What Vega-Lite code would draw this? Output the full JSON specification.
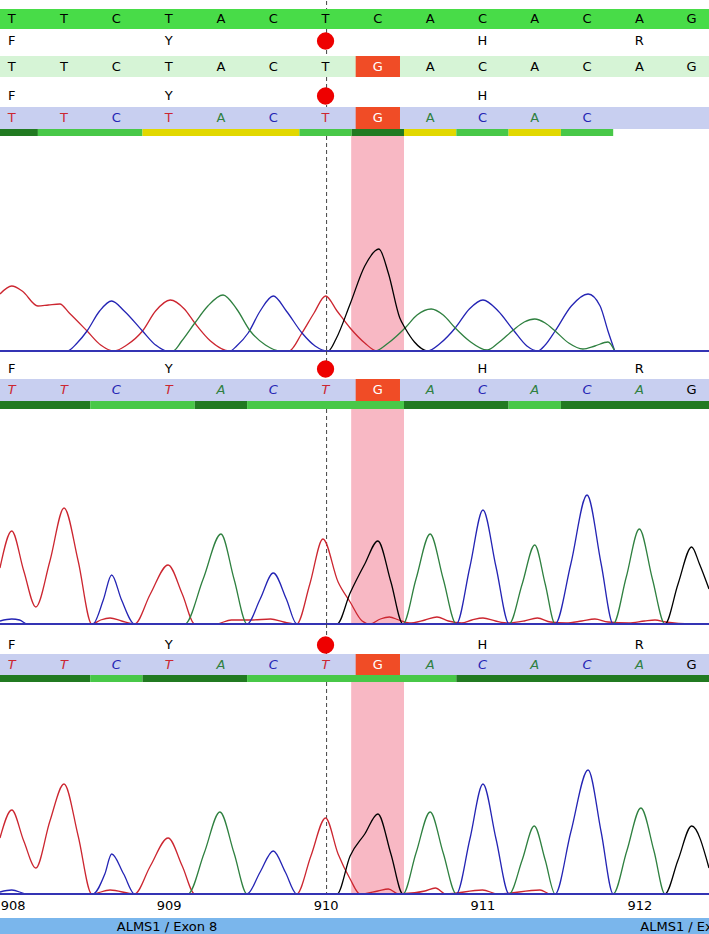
{
"$schema": "https://vega.github.io/schema/vega-lite/v6.json",
"padding": 0,
"spacing": 0,
"bounds": "flush",
"config": {"view": {"stroke": null}, "font": "DejaVu Sans"},
"datasets": {
"cursor": [{"idx": 6.02}],
"highlight": [{"from": 6.49, "to": 7.5}],
"variant": [{"idx": 7, "from": 6.5, "to": 7.5, "base": "G"}],
"ref": [{"idx":0,"base":"T"},{"idx":1,"base":"T"},{"idx":2,"base":"C"},{"idx":3,"base":"T"},{"idx":4,"base":"A"},{"idx":5,"base":"C"},{"idx":6,"base":"T"},{"idx":7,"base":"C"},{"idx":8,"base":"A"},{"idx":9,"base":"C"},{"idx":10,"base":"A"},{"idx":11,"base":"C"},{"idx":12,"base":"A"},{"idx":13,"base":"G"}],
"seq1": [{"idx":0,"base":"T"},{"idx":1,"base":"T"},{"idx":2,"base":"C"},{"idx":3,"base":"T"},{"idx":4,"base":"A"},{"idx":5,"base":"C"},{"idx":6,"base":"T"},{"idx":8,"base":"A"},{"idx":9,"base":"C"},{"idx":10,"base":"A"},{"idx":11,"base":"C"},{"idx":12,"base":"A"},{"idx":13,"base":"G"}],
"call1": [{"idx":0,"base":"T"},{"idx":1,"base":"T"},{"idx":2,"base":"C"},{"idx":3,"base":"T"},{"idx":4,"base":"A"},{"idx":5,"base":"C"},{"idx":6,"base":"T"},{"idx":8,"base":"A"},{"idx":9,"base":"C"},{"idx":10,"base":"A"},{"idx":11,"base":"C"}],
"call2": [{"idx":0,"base":"T"},{"idx":1,"base":"T"},{"idx":2,"base":"C"},{"idx":3,"base":"T"},{"idx":4,"base":"A"},{"idx":5,"base":"C"},{"idx":6,"base":"T"},{"idx":8,"base":"A"},{"idx":9,"base":"C"},{"idx":10,"base":"A"},{"idx":11,"base":"C"},{"idx":12,"base":"A"},{"idx":13,"base":"G"}],
"call3": [{"idx":0,"base":"T"},{"idx":1,"base":"T"},{"idx":2,"base":"C"},{"idx":3,"base":"T"},{"idx":4,"base":"A"},{"idx":5,"base":"C"},{"idx":6,"base":"T"},{"idx":8,"base":"A"},{"idx":9,"base":"C"},{"idx":10,"base":"A"},{"idx":11,"base":"C"},{"idx":12,"base":"A"},{"idx":13,"base":"G"}],
"aa1": [{"idx":0,"aa":"F"},{"idx":3,"aa":"Y"},{"idx":6,"aa":"*"},{"idx":9,"aa":"H"},{"idx":12,"aa":"R"}],
"aa2": [{"idx":0,"aa":"F"},{"idx":3,"aa":"Y"},{"idx":6,"aa":"*"},{"idx":9,"aa":"H"}],
"aa3": [{"idx":0,"aa":"F"},{"idx":3,"aa":"Y"},{"idx":6,"aa":"*"},{"idx":9,"aa":"H"},{"idx":12,"aa":"R"}],
"aa4": [{"idx":0,"aa":"F"},{"idx":3,"aa":"Y"},{"idx":6,"aa":"*"},{"idx":9,"aa":"H"},{"idx":12,"aa":"R"}],
"q1": [{"from":-0.5,"to":0.5,"quality":"high"},{"from":0.5,"to":2.5,"quality":"medium"},{"from":2.5,"to":5.5,"quality":"low"},{"from":5.5,"to":6.5,"quality":"medium"},{"from":6.5,"to":7.5,"quality":"high"},{"from":7.5,"to":8.5,"quality":"low"},{"from":8.5,"to":9.5,"quality":"medium"},{"from":9.5,"to":10.5,"quality":"low"},{"from":10.5,"to":11.5,"quality":"medium"}],
"q2": [{"from":-0.5,"to":1.5,"quality":"high"},{"from":1.5,"to":3.5,"quality":"medium"},{"from":3.5,"to":4.5,"quality":"high"},{"from":4.5,"to":7.5,"quality":"medium"},{"from":7.5,"to":9.5,"quality":"high"},{"from":9.5,"to":10.5,"quality":"medium"},{"from":10.5,"to":13.5,"quality":"high"}],
"q3": [{"from":-0.5,"to":1.5,"quality":"high"},{"from":1.5,"to":2.5,"quality":"medium"},{"from":2.5,"to":4.5,"quality":"high"},{"from":4.5,"to":8.5,"quality":"medium"},{"from":8.5,"to":13.5,"quality":"high"}],
"exon": [{"idx":2.97,"label":"ALMS1 / Exon 8"},{"idx":12.98,"label":"ALMS1 / Exon 8"}],
"trace1": [
{"base":"T","idx":-0.225,"signal":57},{"base":"T","idx":0,"signal":65},{"base":"T","idx":0.2,"signal":60},{"base":"T","idx":0.5,"signal":45},{"base":"T","idx":0.7,"signal":46},{"base":"T","idx":0.92,"signal":47},{"base":"T","idx":1.1,"signal":38},{"base":"T","idx":1.44,"signal":20},{"base":"T","idx":1.7,"signal":6},{"base":"T","idx":1.95,"signal":0},{"base":"T","idx":2.2,"signal":6},{"base":"T","idx":2.5,"signal":20},{"base":"T","idx":2.75,"signal":40},{"base":"T","idx":3.03,"signal":51},{"base":"T","idx":3.3,"signal":42},{"base":"T","idx":3.5,"signal":28},{"base":"T","idx":3.8,"signal":10},{"base":"T","idx":4.17,"signal":0},{"base":"T","idx":5.3,"signal":0},{"base":"T","idx":5.55,"signal":18},{"base":"T","idx":5.78,"signal":38},{"base":"T","idx":6.0,"signal":55},{"base":"T","idx":6.22,"signal":40},{"base":"T","idx":6.47,"signal":23},{"base":"T","idx":6.75,"signal":8},{"base":"T","idx":6.98,"signal":0},{"base":"T","idx":11.53,"signal":0},
{"base":"C","idx":-0.225,"signal":0},{"base":"C","idx":1.06,"signal":0},{"base":"C","idx":1.25,"signal":8},{"base":"C","idx":1.44,"signal":20},{"base":"C","idx":1.68,"signal":40},{"base":"C","idx":1.91,"signal":50},{"base":"C","idx":2.15,"signal":40},{"base":"C","idx":2.5,"signal":20},{"base":"C","idx":2.75,"signal":6},{"base":"C","idx":2.97,"signal":0},{"base":"C","idx":4.17,"signal":0},{"base":"C","idx":4.3,"signal":5},{"base":"C","idx":4.52,"signal":18},{"base":"C","idx":4.75,"signal":40},{"base":"C","idx":5.0,"signal":55},{"base":"C","idx":5.25,"signal":40},{"base":"C","idx":5.55,"signal":18},{"base":"C","idx":5.8,"signal":5},{"base":"C","idx":6.03,"signal":0},{"base":"C","idx":7.94,"signal":0},{"base":"C","idx":8.2,"signal":8},{"base":"C","idx":8.48,"signal":23},{"base":"C","idx":8.75,"signal":42},{"base":"C","idx":9.01,"signal":51},{"base":"C","idx":9.3,"signal":40},{"base":"C","idx":9.59,"signal":21},{"base":"C","idx":9.85,"signal":5},{"base":"C","idx":10.06,"signal":0},{"base":"C","idx":10.2,"signal":6},{"base":"C","idx":10.39,"signal":20},{"base":"C","idx":10.7,"signal":45},{"base":"C","idx":11.02,"signal":57},{"base":"C","idx":11.25,"signal":45},{"base":"C","idx":11.4,"signal":20},{"base":"C","idx":11.53,"signal":0},
{"base":"A","idx":-0.225,"signal":0},{"base":"A","idx":3.08,"signal":0},{"base":"A","idx":3.25,"signal":10},{"base":"A","idx":3.5,"signal":28},{"base":"A","idx":3.75,"signal":45},{"base":"A","idx":4.04,"signal":56},{"base":"A","idx":4.3,"signal":42},{"base":"A","idx":4.56,"signal":20},{"base":"A","idx":4.85,"signal":6},{"base":"A","idx":5.14,"signal":0},{"base":"A","idx":6.95,"signal":0},{"base":"A","idx":7.2,"signal":8},{"base":"A","idx":7.52,"signal":23},{"base":"A","idx":7.75,"signal":36},{"base":"A","idx":8.02,"signal":42},{"base":"A","idx":8.25,"signal":36},{"base":"A","idx":8.48,"signal":23},{"base":"A","idx":8.75,"signal":10},{"base":"A","idx":9.09,"signal":1},{"base":"A","idx":9.3,"signal":8},{"base":"A","idx":9.59,"signal":21},{"base":"A","idx":9.8,"signal":29},{"base":"A","idx":10.0,"signal":32},{"base":"A","idx":10.2,"signal":28},{"base":"A","idx":10.39,"signal":20},{"base":"A","idx":10.65,"signal":8},{"base":"A","idx":10.92,"signal":2},{"base":"A","idx":11.15,"signal":5},{"base":"A","idx":11.4,"signal":9},{"base":"A","idx":11.53,"signal":0},
{"base":"G","idx":-0.225,"signal":0},{"base":"G","idx":6.05,"signal":0},{"base":"G","idx":6.2,"signal":12},{"base":"G","idx":6.47,"signal":47},{"base":"G","idx":6.75,"signal":85},{"base":"G","idx":7.02,"signal":102},{"base":"G","idx":7.2,"signal":78},{"base":"G","idx":7.42,"signal":33},{"base":"G","idx":7.52,"signal":23},{"base":"G","idx":7.7,"signal":9},{"base":"G","idx":7.96,"signal":0},{"base":"G","idx":11.53,"signal":0}
],
"trace2": [
{"base":"T","idx":-0.225,"signal":56},{"base":"T","idx":0,"signal":93},{"base":"T","idx":0.23,"signal":53},{"base":"T","idx":0.46,"signal":17},{"base":"T","idx":0.73,"signal":63},{"base":"T","idx":1.0,"signal":116},{"base":"T","idx":1.27,"signal":63},{"base":"T","idx":1.53,"signal":0},{"base":"T","idx":1.7,"signal":4},{"base":"T","idx":1.88,"signal":6},{"base":"T","idx":2.1,"signal":3},{"base":"T","idx":2.35,"signal":0},{"base":"T","idx":2.65,"signal":30},{"base":"T","idx":2.99,"signal":59},{"base":"T","idx":3.26,"signal":30},{"base":"T","idx":3.5,"signal":0},{"base":"T","idx":3.9,"signal":0},{"base":"T","idx":4.2,"signal":4},{"base":"T","idx":4.6,"signal":4},{"base":"T","idx":4.95,"signal":5},{"base":"T","idx":5.2,"signal":2},{"base":"T","idx":5.45,"signal":0},{"base":"T","idx":5.7,"signal":40},{"base":"T","idx":5.95,"signal":85},{"base":"T","idx":6.24,"signal":42},{"base":"T","idx":6.47,"signal":22},{"base":"T","idx":6.7,"signal":3},{"base":"T","idx":6.85,"signal":0},{"base":"T","idx":7.05,"signal":5},{"base":"T","idx":7.22,"signal":7},{"base":"T","idx":7.4,"signal":4},{"base":"T","idx":7.6,"signal":1},{"base":"T","idx":7.9,"signal":4},{"base":"T","idx":8.13,"signal":7},{"base":"T","idx":8.35,"signal":3},{"base":"T","idx":8.6,"signal":1},{"base":"T","idx":8.8,"signal":4},{"base":"T","idx":9.01,"signal":6},{"base":"T","idx":9.25,"signal":3},{"base":"T","idx":9.5,"signal":1},{"base":"T","idx":9.8,"signal":3},{"base":"T","idx":10.05,"signal":6},{"base":"T","idx":10.3,"signal":2},{"base":"T","idx":10.6,"signal":1},{"base":"T","idx":10.9,"signal":3},{"base":"T","idx":11.15,"signal":5},{"base":"T","idx":11.4,"signal":2},{"base":"T","idx":11.8,"signal":1},{"base":"T","idx":12.1,"signal":3},{"base":"T","idx":12.3,"signal":4},{"base":"T","idx":12.5,"signal":2},{"base":"T","idx":13.0,"signal":0},{"base":"T","idx":13.332,"signal":0},
{"base":"C","idx":-0.225,"signal":3},{"base":"C","idx":0,"signal":5},{"base":"C","idx":0.15,"signal":4},{"base":"C","idx":0.3,"signal":0},{"base":"C","idx":1.55,"signal":0},{"base":"C","idx":1.75,"signal":24},{"base":"C","idx":1.91,"signal":49},{"base":"C","idx":2.1,"signal":24},{"base":"C","idx":2.35,"signal":0},{"base":"C","idx":4.5,"signal":0},{"base":"C","idx":4.75,"signal":25},{"base":"C","idx":5.0,"signal":51},{"base":"C","idx":5.25,"signal":25},{"base":"C","idx":5.45,"signal":0},{"base":"C","idx":8.5,"signal":0},{"base":"C","idx":8.76,"signal":57},{"base":"C","idx":9.01,"signal":114},{"base":"C","idx":9.26,"signal":57},{"base":"C","idx":9.51,"signal":0},{"base":"C","idx":10.39,"signal":0},{"base":"C","idx":10.69,"signal":60},{"base":"C","idx":11.0,"signal":129},{"base":"C","idx":11.27,"signal":60},{"base":"C","idx":11.5,"signal":0},{"base":"C","idx":13.332,"signal":0},
{"base":"A","idx":-0.225,"signal":0},{"base":"A","idx":3.31,"signal":0},{"base":"A","idx":3.66,"signal":45},{"base":"A","idx":4.0,"signal":90},{"base":"A","idx":4.25,"signal":45},{"base":"A","idx":4.5,"signal":0},{"base":"A","idx":7.48,"signal":0},{"base":"A","idx":7.73,"signal":45},{"base":"A","idx":8.0,"signal":90},{"base":"A","idx":8.25,"signal":45},{"base":"A","idx":8.5,"signal":0},{"base":"A","idx":9.51,"signal":0},{"base":"A","idx":9.76,"signal":40},{"base":"A","idx":10.0,"signal":79},{"base":"A","idx":10.2,"signal":40},{"base":"A","idx":10.39,"signal":0},{"base":"A","idx":11.5,"signal":0},{"base":"A","idx":11.75,"signal":47},{"base":"A","idx":12.0,"signal":95},{"base":"A","idx":12.25,"signal":45},{"base":"A","idx":12.49,"signal":0},{"base":"A","idx":13.332,"signal":0},
{"base":"G","idx":-0.225,"signal":0},{"base":"G","idx":6.22,"signal":0},{"base":"G","idx":6.47,"signal":31},{"base":"G","idx":6.75,"signal":60},{"base":"G","idx":7.0,"signal":83},{"base":"G","idx":7.25,"signal":42},{"base":"G","idx":7.48,"signal":0},{"base":"G","idx":12.49,"signal":0},{"base":"G","idx":12.74,"signal":40},{"base":"G","idx":13.0,"signal":77},{"base":"G","idx":13.15,"signal":60},{"base":"G","idx":13.332,"signal":35}
],
"trace3": [
{"base":"T","idx":-0.225,"signal":56},{"base":"T","idx":0,"signal":84},{"base":"T","idx":0.23,"signal":53},{"base":"T","idx":0.46,"signal":26},{"base":"T","idx":0.73,"signal":73},{"base":"T","idx":1.0,"signal":110},{"base":"T","idx":1.27,"signal":58},{"base":"T","idx":1.53,"signal":0},{"base":"T","idx":1.88,"signal":4},{"base":"T","idx":2.35,"signal":0},{"base":"T","idx":2.65,"signal":28},{"base":"T","idx":2.99,"signal":56},{"base":"T","idx":3.26,"signal":28},{"base":"T","idx":3.5,"signal":0},{"base":"T","idx":5.45,"signal":0},{"base":"T","idx":5.72,"signal":38},{"base":"T","idx":6.0,"signal":76},{"base":"T","idx":6.24,"signal":40},{"base":"T","idx":6.47,"signal":15},{"base":"T","idx":6.66,"signal":0},{"base":"T","idx":7.0,"signal":3},{"base":"T","idx":7.2,"signal":5},{"base":"T","idx":7.4,"signal":0},{"base":"T","idx":7.9,"signal":3},{"base":"T","idx":8.1,"signal":6},{"base":"T","idx":8.3,"signal":0},{"base":"T","idx":9.0,"signal":4},{"base":"T","idx":9.3,"signal":0},{"base":"T","idx":10.1,"signal":4},{"base":"T","idx":10.3,"signal":0},{"base":"T","idx":13.332,"signal":0},
{"base":"C","idx":-0.225,"signal":2},{"base":"C","idx":0,"signal":4},{"base":"C","idx":0.3,"signal":0},{"base":"C","idx":1.55,"signal":0},{"base":"C","idx":1.78,"signal":20},{"base":"C","idx":1.91,"signal":40},{"base":"C","idx":2.14,"signal":20},{"base":"C","idx":2.35,"signal":0},{"base":"C","idx":4.5,"signal":0},{"base":"C","idx":4.75,"signal":22},{"base":"C","idx":5.0,"signal":43},{"base":"C","idx":5.23,"signal":22},{"base":"C","idx":5.45,"signal":0},{"base":"C","idx":8.5,"signal":0},{"base":"C","idx":8.76,"signal":55},{"base":"C","idx":9.01,"signal":110},{"base":"C","idx":9.26,"signal":55},{"base":"C","idx":9.51,"signal":0},{"base":"C","idx":10.39,"signal":0},{"base":"C","idx":10.69,"signal":62},{"base":"C","idx":11.02,"signal":124},{"base":"C","idx":11.27,"signal":62},{"base":"C","idx":11.5,"signal":0},{"base":"C","idx":13.332,"signal":0},
{"base":"A","idx":-0.225,"signal":0},{"base":"A","idx":3.37,"signal":0},{"base":"A","idx":3.68,"signal":41},{"base":"A","idx":3.98,"signal":82},{"base":"A","idx":4.25,"signal":41},{"base":"A","idx":4.5,"signal":0},{"base":"A","idx":7.48,"signal":0},{"base":"A","idx":7.73,"signal":41},{"base":"A","idx":8.0,"signal":82},{"base":"A","idx":8.25,"signal":41},{"base":"A","idx":8.5,"signal":0},{"base":"A","idx":9.51,"signal":0},{"base":"A","idx":9.76,"signal":34},{"base":"A","idx":9.99,"signal":68},{"base":"A","idx":10.2,"signal":34},{"base":"A","idx":10.39,"signal":0},{"base":"A","idx":11.5,"signal":0},{"base":"A","idx":11.76,"signal":43},{"base":"A","idx":12.03,"signal":86},{"base":"A","idx":12.28,"signal":43},{"base":"A","idx":12.49,"signal":0},{"base":"A","idx":13.332,"signal":0},
{"base":"G","idx":-0.225,"signal":0},{"base":"G","idx":6.22,"signal":0},{"base":"G","idx":6.47,"signal":38},{"base":"G","idx":6.75,"signal":60},{"base":"G","idx":7.0,"signal":80},{"base":"G","idx":7.25,"signal":40},{"base":"G","idx":7.48,"signal":0},{"base":"G","idx":12.49,"signal":0},{"base":"G","idx":12.74,"signal":34},{"base":"G","idx":13.0,"signal":68},{"base":"G","idx":13.332,"signal":26}
]
},
"vconcat": [
{"width":709,"height":8,"data":{"name":"cursor"},"mark":{"type":"rule","strokeDash":[4,3],"color":"#444444","strokeWidth":1},"encoding":{"x":{"field":"idx","type":"quantitative","scale":{"domain":[-0.2247,13.332],"nice":false,"zero":false},"axis":null}}},
{"width":709,"height":20,"layer":[
 {"data":{"values":[{"track":"reference"}]},"mark":{"type":"rect","color":"#48dc48"},"encoding":{}},
 {"data":{"name":"ref"},"mark":{"type":"text","fontSize":13,"color":"#000000"},"encoding":{"x":{"field":"idx","type":"quantitative","scale":{"domain":[-0.2247,13.332],"nice":false,"zero":false},"axis":null},"text":{"field":"base"}}}
]},
{"width":709,"height":27,"data":{"name":"aa1"},"layer":[
 {"data":{"name":"cursor"},"mark":{"type":"rule","strokeDash":[4,3],"color":"#444444","strokeWidth":1},"encoding":{"x":{"field":"idx","type":"quantitative","scale":{"domain":[-0.2247,13.332],"nice":false,"zero":false},"axis":null}}},
 {"transform":[{"filter":"datum.aa !== '*'"}],"mark":{"type":"text","fontSize":13,"color":"#000000","yOffset":-1.5},"encoding":{"x":{"field":"idx","type":"quantitative","scale":{"domain":[-0.2247,13.332],"nice":false,"zero":false},"axis":null},"text":{"field":"aa"}}},
 {"transform":[{"filter":"datum.aa === '*'"}],"mark":{"type":"circle","size":300,"color":"#ee0000","opacity":1,"yOffset":-1.5},"encoding":{"x":{"field":"idx","type":"quantitative","scale":{"domain":[-0.2247,13.332],"nice":false,"zero":false},"axis":null}}}
]},
{"width":709,"height":21,"layer":[
 {"data":{"values":[{"track":"sample"}]},"mark":{"type":"rect","color":"#d6f4d6"},"encoding":{}},
 {"data":{"name":"seq1"},"mark":{"type":"text","fontSize":13,"color":"#000000"},"encoding":{"x":{"field":"idx","type":"quantitative","scale":{"domain":[-0.2247,13.332],"nice":false,"zero":false},"axis":null},"text":{"field":"base"}}},
 {"data":{"name":"variant"},"mark":{"type":"rect","color":"#f04c26","xOffset":4,"x2Offset":-4},"encoding":{"x":{"field":"from","type":"quantitative","scale":{"domain":[-0.2247,13.332],"nice":false,"zero":false},"axis":null},"x2":{"field":"to"}}},
 {"data":{"name":"variant"},"mark":{"type":"text","fontSize":13,"color":"#ffffff"},"encoding":{"x":{"field":"idx","type":"quantitative","scale":{"domain":[-0.2247,13.332],"nice":false,"zero":false},"axis":null},"text":{"field":"base"}}}
]},
{"width":709,"height":30,"data":{"name":"aa2"},"layer":[
 {"data":{"name":"cursor"},"mark":{"type":"rule","strokeDash":[4,3],"color":"#444444","strokeWidth":1},"encoding":{"x":{"field":"idx","type":"quantitative","scale":{"domain":[-0.2247,13.332],"nice":false,"zero":false},"axis":null}}},
 {"transform":[{"filter":"datum.aa !== '*'"}],"mark":{"type":"text","fontSize":13,"color":"#000000","yOffset":4},"encoding":{"x":{"field":"idx","type":"quantitative","scale":{"domain":[-0.2247,13.332],"nice":false,"zero":false},"axis":null},"text":{"field":"aa"}}},
 {"transform":[{"filter":"datum.aa === '*'"}],"mark":{"type":"circle","size":300,"color":"#ee0000","opacity":1,"yOffset":4},"encoding":{"x":{"field":"idx","type":"quantitative","scale":{"domain":[-0.2247,13.332],"nice":false,"zero":false},"axis":null}}}
]},
{"width":709,"height":22,"layer":[
 {"data":{"values":[{"track":"read 1"}]},"mark":{"type":"rect","color":"#c8cff0"},"encoding":{}},
 {"data":{"name":"call1"},"mark":{"type":"text","fontSize":13},"encoding":{"x":{"field":"idx","type":"quantitative","scale":{"domain":[-0.2247,13.332],"nice":false,"zero":false},"axis":null},"text":{"field":"base"},"color":{"field":"base","type":"nominal","scale":{"domain":["A","C","G","T"],"range":["#2f8040","#2424b4","#000000","#cc2630"]},"legend":null}}},
 {"data":{"name":"variant"},"mark":{"type":"rect","color":"#f04c26","xOffset":4,"x2Offset":-4},"encoding":{"x":{"field":"from","type":"quantitative","scale":{"domain":[-0.2247,13.332],"nice":false,"zero":false},"axis":null},"x2":{"field":"to"}}},
 {"data":{"name":"variant"},"mark":{"type":"text","fontSize":13,"color":"#ffffff"},"encoding":{"x":{"field":"idx","type":"quantitative","scale":{"domain":[-0.2247,13.332],"nice":false,"zero":false},"axis":null},"text":{"field":"base"}}}
]},
{"width":709,"height":7,"data":{"name":"q1"},"mark":{"type":"rect","clip":true},"encoding":{"x":{"field":"from","type":"quantitative","scale":{"domain":[-0.2247,13.332],"nice":false,"zero":false},"axis":null},"x2":{"field":"to"},"fill":{"field":"quality","type":"nominal","scale":{"domain":["high","medium","low"],"range":["#217a21","#48c848","#e2d800"]},"legend":null}}},
{"width":709,"height":215,"layer":[
 {"data":{"name":"highlight"},"mark":{"type":"rect","color":"#f8b8c4"},"encoding":{"x":{"field":"from","type":"quantitative","scale":{"domain":[-0.2247,13.332],"nice":false,"zero":false},"axis":null},"x2":{"field":"to"}}},
 {"data":{"name":"cursor"},"mark":{"type":"rule","strokeDash":[4,3],"color":"#444444","strokeWidth":1},"encoding":{"x":{"field":"idx","type":"quantitative","scale":{"domain":[-0.2247,13.332],"nice":false,"zero":false},"axis":null}}},
 {"data":{"name":"trace1"},"mark":{"type":"line","interpolate":"monotone","strokeWidth":1.3,"clip":true},"encoding":{"x":{"field":"idx","type":"quantitative","scale":{"domain":[-0.2247,13.332],"nice":false,"zero":false},"axis":null},"y":{"field":"signal","type":"quantitative","scale":{"domain":[0,215],"nice":false,"zero":false},"axis":null},"color":{"field":"base","type":"nominal","scale":{"domain":["A","C","G","T"],"range":["#2f8040","#2424b4","#000000","#cc2630"]},"legend":null}}},
 {"data":{"values":[{"signal":0}]},"mark":{"type":"rect","color":"#3434b4","yOffset":1,"y2Offset":-1},"encoding":{"y":{"field":"signal","type":"quantitative","scale":{"domain":[0,215],"nice":false,"zero":false},"axis":null},"y2":{"field":"signal"}}}
]},
{"width":709,"height":28,"data":{"name":"aa3"},"layer":[
 {"data":{"name":"cursor"},"mark":{"type":"rule","strokeDash":[4,3],"color":"#444444","strokeWidth":1},"encoding":{"x":{"field":"idx","type":"quantitative","scale":{"domain":[-0.2247,13.332],"nice":false,"zero":false},"axis":null}}},
 {"transform":[{"filter":"datum.aa !== '*'"}],"mark":{"type":"text","fontSize":13,"color":"#000000","yOffset":4},"encoding":{"x":{"field":"idx","type":"quantitative","scale":{"domain":[-0.2247,13.332],"nice":false,"zero":false},"axis":null},"text":{"field":"aa"}}},
 {"transform":[{"filter":"datum.aa === '*'"}],"mark":{"type":"circle","size":300,"color":"#ee0000","opacity":1,"yOffset":4},"encoding":{"x":{"field":"idx","type":"quantitative","scale":{"domain":[-0.2247,13.332],"nice":false,"zero":false},"axis":null}}}
]},
{"width":709,"height":22,"layer":[
 {"data":{"values":[{"track":"read 2"}]},"mark":{"type":"rect","color":"#c8cff0"},"encoding":{}},
 {"data":{"name":"call2"},"transform":[{"filter":"datum.base !== 'G'"}],"mark":{"type":"text","fontSize":13,"fontStyle":"italic"},"encoding":{"x":{"field":"idx","type":"quantitative","scale":{"domain":[-0.2247,13.332],"nice":false,"zero":false},"axis":null},"text":{"field":"base"},"color":{"field":"base","type":"nominal","scale":{"domain":["A","C","G","T"],"range":["#2f8040","#2424b4","#000000","#cc2630"]},"legend":null}}},
 {"data":{"name":"call2"},"transform":[{"filter":"datum.base === 'G'"}],"mark":{"type":"text","fontSize":13},"encoding":{"x":{"field":"idx","type":"quantitative","scale":{"domain":[-0.2247,13.332],"nice":false,"zero":false},"axis":null},"text":{"field":"base"},"color":{"field":"base","type":"nominal","scale":{"domain":["A","C","G","T"],"range":["#2f8040","#2424b4","#000000","#cc2630"]},"legend":null}}},
 {"data":{"name":"variant"},"mark":{"type":"rect","color":"#f04c26","xOffset":4,"x2Offset":-4},"encoding":{"x":{"field":"from","type":"quantitative","scale":{"domain":[-0.2247,13.332],"nice":false,"zero":false},"axis":null},"x2":{"field":"to"}}},
 {"data":{"name":"variant"},"mark":{"type":"text","fontSize":13,"color":"#ffffff"},"encoding":{"x":{"field":"idx","type":"quantitative","scale":{"domain":[-0.2247,13.332],"nice":false,"zero":false},"axis":null},"text":{"field":"base"}}}
]},
{"width":709,"height":8,"data":{"name":"q2"},"mark":{"type":"rect","clip":true},"encoding":{"x":{"field":"from","type":"quantitative","scale":{"domain":[-0.2247,13.332],"nice":false,"zero":false},"axis":null},"x2":{"field":"to"},"fill":{"field":"quality","type":"nominal","scale":{"domain":["high","medium","low"],"range":["#217a21","#48c848","#e2d800"]},"legend":null}}},
{"width":709,"height":215,"layer":[
 {"data":{"name":"highlight"},"mark":{"type":"rect","color":"#f8b8c4"},"encoding":{"x":{"field":"from","type":"quantitative","scale":{"domain":[-0.2247,13.332],"nice":false,"zero":false},"axis":null},"x2":{"field":"to"}}},
 {"data":{"name":"cursor"},"mark":{"type":"rule","strokeDash":[4,3],"color":"#444444","strokeWidth":1},"encoding":{"x":{"field":"idx","type":"quantitative","scale":{"domain":[-0.2247,13.332],"nice":false,"zero":false},"axis":null}}},
 {"data":{"name":"trace2"},"mark":{"type":"line","interpolate":"monotone","strokeWidth":1.3,"clip":true},"encoding":{"x":{"field":"idx","type":"quantitative","scale":{"domain":[-0.2247,13.332],"nice":false,"zero":false},"axis":null},"y":{"field":"signal","type":"quantitative","scale":{"domain":[0,215],"nice":false,"zero":false},"axis":null},"color":{"field":"base","type":"nominal","scale":{"domain":["A","C","G","T"],"range":["#2f8040","#2424b4","#000000","#cc2630"]},"legend":null}}},
 {"data":{"values":[{"signal":0}]},"mark":{"type":"rect","color":"#3434b4","yOffset":1,"y2Offset":-1},"encoding":{"y":{"field":"signal","type":"quantitative","scale":{"domain":[0,215],"nice":false,"zero":false},"axis":null},"y2":{"field":"signal"}}}
]},
{"width":709,"height":30,"data":{"name":"aa4"},"layer":[
 {"data":{"name":"cursor"},"mark":{"type":"rule","strokeDash":[4,3],"color":"#444444","strokeWidth":1},"encoding":{"x":{"field":"idx","type":"quantitative","scale":{"domain":[-0.2247,13.332],"nice":false,"zero":false},"axis":null}}},
 {"transform":[{"filter":"datum.aa !== '*'"}],"mark":{"type":"text","fontSize":13,"color":"#000000","yOffset":6},"encoding":{"x":{"field":"idx","type":"quantitative","scale":{"domain":[-0.2247,13.332],"nice":false,"zero":false},"axis":null},"text":{"field":"aa"}}},
 {"transform":[{"filter":"datum.aa === '*'"}],"mark":{"type":"circle","size":300,"color":"#ee0000","opacity":1,"yOffset":6},"encoding":{"x":{"field":"idx","type":"quantitative","scale":{"domain":[-0.2247,13.332],"nice":false,"zero":false},"axis":null}}}
]},
{"width":709,"height":21,"layer":[
 {"data":{"values":[{"track":"read 3"}]},"mark":{"type":"rect","color":"#c8cff0"},"encoding":{}},
 {"data":{"name":"call3"},"transform":[{"filter":"datum.base !== 'G'"}],"mark":{"type":"text","fontSize":13,"fontStyle":"italic"},"encoding":{"x":{"field":"idx","type":"quantitative","scale":{"domain":[-0.2247,13.332],"nice":false,"zero":false},"axis":null},"text":{"field":"base"},"color":{"field":"base","type":"nominal","scale":{"domain":["A","C","G","T"],"range":["#2f8040","#2424b4","#000000","#cc2630"]},"legend":null}}},
 {"data":{"name":"call3"},"transform":[{"filter":"datum.base === 'G'"}],"mark":{"type":"text","fontSize":13},"encoding":{"x":{"field":"idx","type":"quantitative","scale":{"domain":[-0.2247,13.332],"nice":false,"zero":false},"axis":null},"text":{"field":"base"},"color":{"field":"base","type":"nominal","scale":{"domain":["A","C","G","T"],"range":["#2f8040","#2424b4","#000000","#cc2630"]},"legend":null}}},
 {"data":{"name":"variant"},"mark":{"type":"rect","color":"#f04c26","xOffset":4,"x2Offset":-4},"encoding":{"x":{"field":"from","type":"quantitative","scale":{"domain":[-0.2247,13.332],"nice":false,"zero":false},"axis":null},"x2":{"field":"to"}}},
 {"data":{"name":"variant"},"mark":{"type":"text","fontSize":13,"color":"#ffffff"},"encoding":{"x":{"field":"idx","type":"quantitative","scale":{"domain":[-0.2247,13.332],"nice":false,"zero":false},"axis":null},"text":{"field":"base"}}}
]},
{"width":709,"height":7,"data":{"name":"q3"},"mark":{"type":"rect","clip":true},"encoding":{"x":{"field":"from","type":"quantitative","scale":{"domain":[-0.2247,13.332],"nice":false,"zero":false},"axis":null},"x2":{"field":"to"},"fill":{"field":"quality","type":"nominal","scale":{"domain":["high","medium","low"],"range":["#217a21","#48c848","#e2d800"]},"legend":null}}},
{"width":709,"height":212,"layer":[
 {"data":{"name":"highlight"},"mark":{"type":"rect","color":"#f8b8c4"},"encoding":{"x":{"field":"from","type":"quantitative","scale":{"domain":[-0.2247,13.332],"nice":false,"zero":false},"axis":{"values":[0,3,6,9,12],"labelExpr":"908 + datum.value / 3","domain":false,"ticks":false,"grid":false,"title":null,"labelFontSize":13,"labelPadding":5,"labelColor":"#000000","labelFont":"DejaVu Sans","labelFlush":15,"labelFlushOffset":11.5,"labelOverlap":false}},"x2":{"field":"to"}}},
 {"data":{"name":"cursor"},"mark":{"type":"rule","strokeDash":[4,3],"color":"#444444","strokeWidth":1},"encoding":{"x":{"field":"idx","type":"quantitative","scale":{"domain":[-0.2247,13.332],"nice":false,"zero":false},"axis":{"values":[0,3,6,9,12],"labelExpr":"908 + datum.value / 3","domain":false,"ticks":false,"grid":false,"title":null,"labelFontSize":13,"labelPadding":5,"labelColor":"#000000","labelFont":"DejaVu Sans","labelFlush":15,"labelFlushOffset":11.5,"labelOverlap":false}}}},
 {"data":{"name":"trace3"},"mark":{"type":"line","interpolate":"monotone","strokeWidth":1.3,"clip":true},"encoding":{"x":{"field":"idx","type":"quantitative","scale":{"domain":[-0.2247,13.332],"nice":false,"zero":false},"axis":{"values":[0,3,6,9,12],"labelExpr":"908 + datum.value / 3","domain":false,"ticks":false,"grid":false,"title":null,"labelFontSize":13,"labelPadding":5,"labelColor":"#000000","labelFont":"DejaVu Sans","labelFlush":15,"labelFlushOffset":11.5,"labelOverlap":false}},"y":{"field":"signal","type":"quantitative","scale":{"domain":[0,212],"nice":false,"zero":false},"axis":null},"color":{"field":"base","type":"nominal","scale":{"domain":["A","C","G","T"],"range":["#2f8040","#2424b4","#000000","#cc2630"]},"legend":null}}},
 {"data":{"values":[{"signal":0}]},"mark":{"type":"rect","color":"#3434b4","yOffset":1,"y2Offset":-1},"encoding":{"y":{"field":"signal","type":"quantitative","scale":{"domain":[0,212],"nice":false,"zero":false},"axis":null},"y2":{"field":"signal"}}}
]},
{"width":709,"height":24,"data":{"values":[]},"mark":{"type":"point","opacity":0},"encoding":{"x":{"field":"idx","type":"quantitative","scale":{"domain":[-0.2247,13.332],"nice":false,"zero":false},"axis":null}}},
{"width":709,"height":17,"layer":[
 {"data":{"values":[{"feature":"ALMS1 exon 8"}]},"mark":{"type":"rect","color":"#7ab6ec"},"encoding":{}},
 {"data":{"name":"exon"},"mark":{"type":"text","fontSize":13,"color":"#000000","clip":true},"encoding":{"x":{"field":"idx","type":"quantitative","scale":{"domain":[-0.2247,13.332],"nice":false,"zero":false},"axis":null},"text":{"field":"label"}}}
]}
]
}
